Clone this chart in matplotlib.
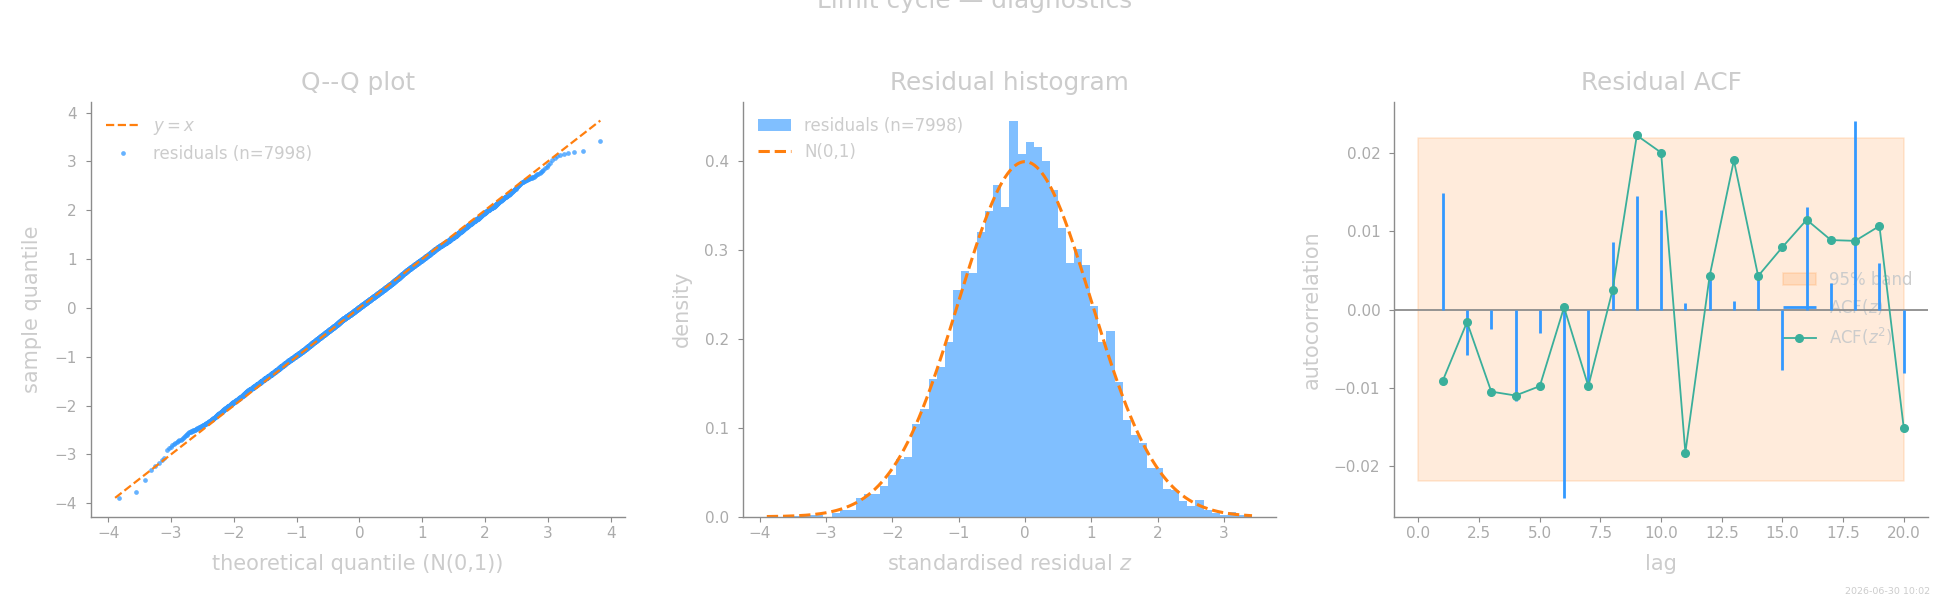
import numpy as np
import matplotlib
matplotlib.use("Agg")
import matplotlib.pyplot as plt
from statistics import NormalDist

# ---------------- data ----------------
n_label = 7998
# isolated tail residuals visible in the Q-Q plot
lower_tail = [-3.89, -3.77, -3.52, -3.31, -3.24, -3.17, -3.12, -3.08]
upper_tail = [3.07, 3.10, 3.13, 3.15, 3.17, 3.19, 3.215, 3.42]
# histogram counts for bins 8..56 of 60 equal bins between min and max
core_counts = [4, 7, 7, 20, 25, 25, 33, 46, 63, 65,
               101, 118, 150, 163, 190, 247, 268, 266, 310, 333,
               362, 338, 431, 395, 409, 403, 388, 356, 315, 277,
               292, 274, 230, 190, 202, 147, 106, 89, 80, 53,
               53, 30, 29, 17, 12, 18, 7, 4, 2]
n_bins = 60

lags = list(range(1, 21))
acf_z = [0.0149, -0.0058, -0.0025, -0.0117, -0.0030, -0.0241, -0.0095, 0.0086,
         0.0145, 0.0128, 0.0008, 0.0040, 0.0011, 0.0040, -0.0077, 0.0131,
         0.0034, 0.0242, 0.0060, -0.0081]
acf_z2 = [-0.0091, -0.0016, -0.0105, -0.0110, -0.0098, 0.0003, -0.0098, 0.0025,
          0.0223, 0.0201, -0.0183, 0.0043, 0.0191, 0.0043, 0.0080, 0.0115,
          0.0089, 0.0088, 0.0107, -0.0151]
band = 0.02196

# ---------------- reconstruct residual sample from the histogram ----------------
z_min, z_max = min(lower_tail), max(upper_tail)
edges = np.linspace(z_min, z_max, n_bins + 1)
core = []
for k, c in enumerate(core_counts, start=8):
    lo, hi = edges[k], edges[k + 1]
    core.extend(lo + (np.arange(c) + 0.5) / c * (hi - lo))
residuals = np.sort(np.concatenate([lower_tail, core, upper_tail]))
n = len(residuals)
nd = NormalDist()
theo = np.array([nd.inv_cdf((i + 0.5) / n) for i in range(n)])

# ---------------- style ----------------
SPINE = "#8c8c8c"
TICK = "#ababab"
LABEL = "#cccccc"
ORANGE = "#ff7f0e"
BLUE = "#3399ff"
HIST = "#80bfff"
GREEN = "#3aaf9b"

plt.rcParams.update({
    "font.family": ["DejaVu Sans"],
    "axes.edgecolor": SPINE,
    "axes.linewidth": 1.0,
    "xtick.color": SPINE,
    "ytick.color": SPINE,
    "xtick.labelcolor": TICK,
    "ytick.labelcolor": TICK,
    "xtick.labelsize": 11,
    "ytick.labelsize": 11,
    "ytick.major.pad": 6.5,
    "axes.labelcolor": LABEL,
    "axes.labelsize": 15,
    "axes.labelpad": 9,
    "axes.titlesize": 17.8,
    "axes.titlecolor": LABEL,
    "legend.fontsize": 12,
    "legend.labelcolor": LABEL,
})

fig, axes = plt.subplots(1, 3, figsize=(19.5, 6), dpi=100)
fig.subplots_adjust(left=0.0466, right=0.9887, bottom=0.1388, top=0.8305, wspace=0.221)

for ax in axes:
    ax.spines["top"].set_visible(False)
    ax.spines["right"].set_visible(False)

# --- Q-Q plot ---
ax = axes[0]
lo = min(theo.min(), residuals.min())
hi = max(theo.max(), residuals.max())
ax.plot([lo, hi], [lo, hi], ls="--", color=ORANGE, lw=1.6, label="$y=x$", zorder=3)
ax.plot(theo, residuals, "o", ms=3.4, mew=0, color=BLUE, alpha=0.75,
        label=f"residuals (n={n_label})", zorder=2)
ax.set_title("Q--Q plot", pad=8.5)
ax.set_xlabel("theoretical quantile (N(0,1))")
ax.set_ylabel("sample quantile")
ax.legend(loc="upper left", frameon=False)

# --- histogram ---
ax = axes[1]
ax.hist(residuals, bins=n_bins, density=True, color=HIST,
        label=f"residuals (n={n_label})")
xs = np.linspace(z_min, z_max, 400)
ax.plot(xs, np.exp(-0.5 * xs ** 2) / np.sqrt(2 * np.pi), ls="--", color=ORANGE,
        lw=2.2, label="N(0,1)")
ax.set_title("Residual histogram", pad=8.5)
ax.set_xlabel("standardised residual $z$")
ax.set_ylabel("density")
ax.legend(loc="upper left", frameon=False)

# --- ACF ---
ax = axes[2]
ax.fill_between([0, 20], [-band, -band], [band, band], color=ORANGE, alpha=0.15,
                lw=1.2, label="95% band")
ax.axhline(0, color=SPINE, lw=1.3, zorder=1.6)
ax.vlines(lags, 0, acf_z, color=BLUE, lw=2.0, label="ACF($z$)", zorder=2)
ax.plot(lags, acf_z2, "-o", color=GREEN, lw=1.3, ms=5.5, label="ACF($z^2$)", zorder=2.5)
ax.set_title("Residual ACF", pad=8.5)
ax.set_xlabel("lag")
ax.set_ylabel("autocorrelation")
leg = ax.legend(loc="center right", frameon=False)
leg.set_zorder(1.5)

fig.text(0.5, 1 - 8.3 / 600, "Limit cycle — diagnostics", ha="center", va="baseline",
         fontsize=17.8, color=LABEL)
fig.text(1930 / 1950, 4 / 600, "2026-06-30 10:02", ha="right", va="bottom",
         fontsize=6.8, color=LABEL)

fig.savefig("out.png", dpi=100)
